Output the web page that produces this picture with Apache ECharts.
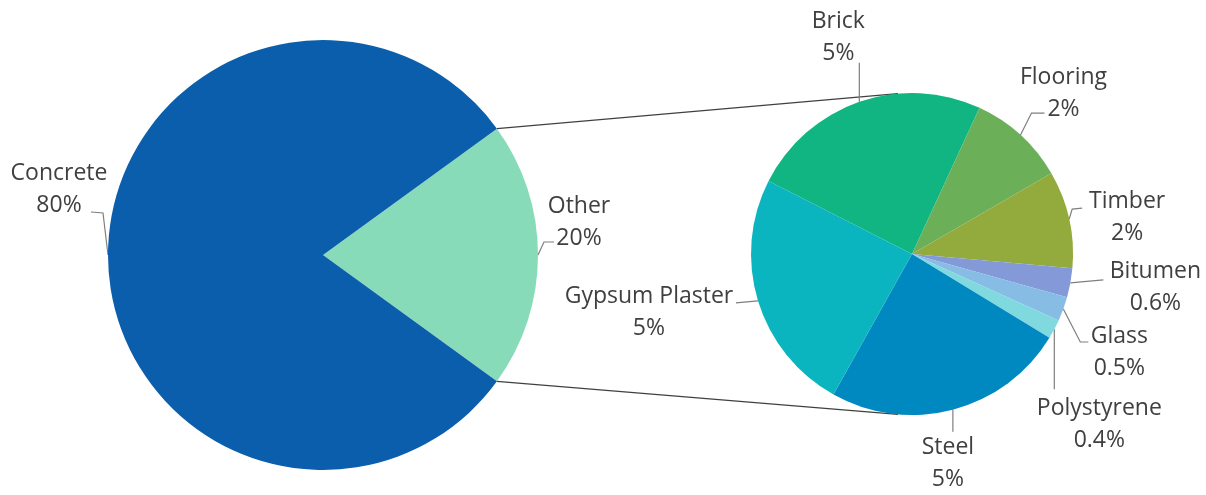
<!DOCTYPE html>
<html>
<head>
<meta charset="utf-8">
<script src="https://cdn.jsdelivr.net/npm/echarts@6/dist/echarts.min.js"></script>
<style>
  html, body { margin: 0; padding: 0; background: #ffffff; }
  #chart { width: 1206px; height: 495px; }
</style>
</head>
<body>
<div id="chart"></div>
<script>
// Share of building materials: main split
const mainCategories = ['Other', 'Concrete'];
const mainValues = [20, 80];

// Breakdown of the "Other" share
const detailCategories = ['Brick', 'Flooring', 'Timber', 'Bitumen', 'Glass', 'Polystyrene', 'Steel', 'Gypsum Plaster'];
const detailValues = [5, 2, 2, 0.6, 0.5, 0.4, 5, 5];

// Colours
const mainColors = ['#88dbb8', '#0b5eab'];
const detailColors = ['#10b582', '#6bb059', '#93aa3d', '#8499d8', '#87bce4', '#7fd9df', '#0089c0', '#0bb5c0'];

// Pie geometry
const leftPie = { cx: 323, cy: 255, r: 215 };
const rightPie = { cx: 912, cy: 254, r: 161 };

// Label offsets relative to where each leader line leaves its slice
const mainLabelPlacement = {
  'Other':    { label: [41, -33],  line: [[6, -13], [16, -13]] },
  'Concrete': { label: [-49, -66], line: [[-5, -42], [-17, -43]] }
};
const detailLabelPlacement = {
  'Brick':          { label: [-21, -64], line: [[0, -39]] },
  'Flooring':       { label: [43, -42],  line: [[11, -22], [24, -22]] },
  'Timber':         { label: [58, -2],   line: [[3, -10], [13, -11]] },
  'Bitumen':        { label: [85, 5],    line: [[33, -3]] },
  'Glass':          { label: [56, 43],   line: [[17, 33], [25, 33]] },
  'Polystyrene':    { label: [45, 95],   line: [[0, 60]] },
  'Steel':          { label: [-5, 54],   line: [[0, 22]] },
  'Gypsum Plaster': { label: [-109, 12], line: [[-22, 2]] }
};

function placeLabels(placement, cats) {
  return function (params) {
    const p = placement[cats[params.dataIndex]];
    const s = params.labelLinePoints[0];
    const pts = [[s[0], s[1]]].concat(p.line.map(function (o) { return [s[0] + o[0], s[1] + o[1]]; }));
    return {
      x: s[0] + p.label[0],
      y: s[1] + p.label[1],
      align: 'center',
      verticalAlign: 'middle',
      labelLinePoints: pts
    };
  };
}

const labelText = {
  show: true,
  position: 'outside',
  formatter: '{b}\n{c}%',
  color: '#404040',
  fontFamily: '"Open Sans", Lato, sans-serif',
  fontSize: 23,
  lineHeight: 32
};
const leader = { show: true, length: 10, length2: 10, smooth: false, lineStyle: { color: '#7f7f7f', width: 1.2 } };

// Connector lines between the "Other" slice and the breakdown pie
const otherHalf = Math.PI * mainValues[0] / (mainValues[0] + mainValues[1]);
const joinAngle = 95 * Math.PI / 180;
const fromTop = [leftPie.cx + leftPie.r * Math.cos(otherHalf), leftPie.cy - leftPie.r * Math.sin(otherHalf)];
const fromBottom = [leftPie.cx + leftPie.r * Math.cos(otherHalf), leftPie.cy + leftPie.r * Math.sin(otherHalf)];
const toTop = [rightPie.cx + rightPie.r * Math.cos(joinAngle), rightPie.cy - rightPie.r * Math.sin(joinAngle)];
const toBottom = [rightPie.cx + rightPie.r * Math.cos(joinAngle), rightPie.cy + rightPie.r * Math.sin(joinAngle)];

const chart = echarts.init(document.getElementById('chart'), null, { renderer: 'canvas' });
chart.setOption({
  animation: false,
  backgroundColor: '#ffffff',
  graphic: [
    { type: 'line', z: 0, shape: { x1: fromTop[0], y1: fromTop[1], x2: toTop[0], y2: toTop[1] }, style: { stroke: '#404040', lineWidth: 1.2 } },
    { type: 'line', z: 0, shape: { x1: fromBottom[0], y1: fromBottom[1], x2: toBottom[0], y2: toBottom[1] }, style: { stroke: '#404040', lineWidth: 1.2 } }
  ],
  series: [
    {
      type: 'pie',
      center: [leftPie.cx, leftPie.cy],
      radius: [0, leftPie.r],
      startAngle: 180 * mainValues[0] / (mainValues[0] + mainValues[1]),
      avoidLabelOverlap: false,
      silent: true,
      itemStyle: { borderWidth: 0 },
      label: labelText,
      labelLine: leader,
      labelLayout: placeLabels(mainLabelPlacement, mainCategories),
      data: mainCategories.map(function (c, i) {
        return { name: c, value: mainValues[i], itemStyle: { color: mainColors[i] } };
      })
    },
    {
      type: 'pie',
      center: [rightPie.cx, rightPie.cy],
      radius: [0, rightPie.r],
      startAngle: 153,
      avoidLabelOverlap: false,
      silent: true,
      itemStyle: { borderWidth: 0 },
      label: labelText,
      labelLine: leader,
      labelLayout: placeLabels(detailLabelPlacement, detailCategories),
      data: detailCategories.map(function (c, i) {
        return { name: c, value: detailValues[i], itemStyle: { color: detailColors[i] } };
      })
    }
  ]
});
</script>
</body>
</html>
